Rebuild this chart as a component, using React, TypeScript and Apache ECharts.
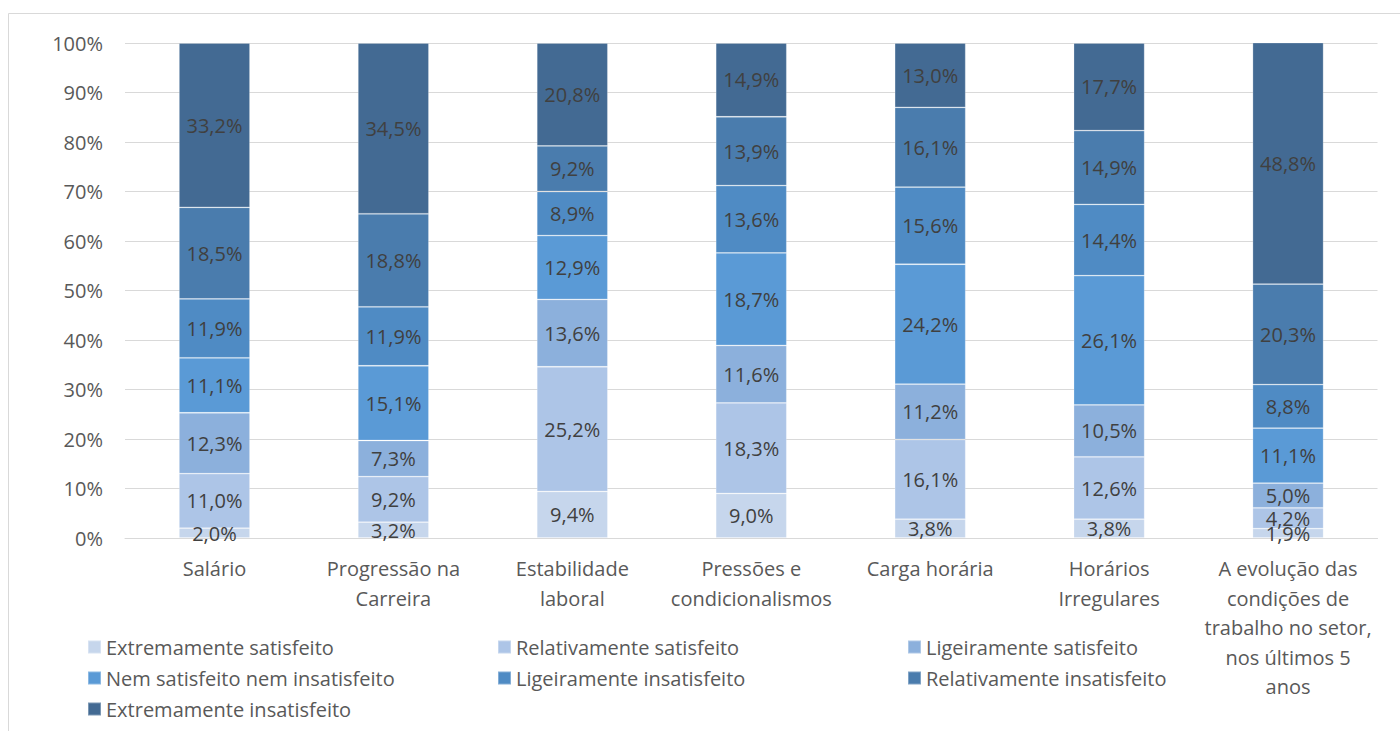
import React, { useEffect, useRef } from "react";
import * as echarts from "echarts";

const categories = [
  "Salário",
  "Progressão na\nCarreira",
  "Estabilidade\nlaboral",
  "Pressões e\ncondicionalismos",
  "Carga horária",
  "Horários\nIrregulares",
  "A evolução das\ncondições de\ntrabalho no setor,\nnos últimos 5\nanos",
];

const seriesNames = [
  "Extremamente satisfeito",
  "Relativamente satisfeito",
  "Ligeiramente satisfeito",
  "Nem satisfeito nem insatisfeito",
  "Ligeiramente insatisfeito",
  "Relativamente insatisfeito",
  "Extremamente insatisfeito",
];

const extremamenteSatisfeito = [2.0, 3.2, 9.4, 9.0, 3.8, 3.8, 1.9];
const relativamenteSatisfeito = [11.0, 9.2, 25.2, 18.3, 16.1, 12.6, 4.2];
const ligeiramenteSatisfeito = [12.3, 7.3, 13.6, 11.6, 11.2, 10.5, 5.0];
const nemSatisfeitoNemInsatisfeito = [11.1, 15.1, 12.9, 18.7, 24.2, 26.1, 11.1];
const ligeiramenteInsatisfeito = [11.9, 11.9, 8.9, 13.6, 15.6, 14.4, 8.8];
const relativamenteInsatisfeito = [18.5, 18.8, 9.2, 13.9, 16.1, 14.9, 20.3];
const extremamenteInsatisfeito = [33.2, 34.5, 20.8, 14.9, 13.0, 17.7, 48.8];

const seriesValues = [
  extremamenteSatisfeito,
  relativamenteSatisfeito,
  ligeiramenteSatisfeito,
  nemSatisfeitoNemInsatisfeito,
  ligeiramenteInsatisfeito,
  relativamenteInsatisfeito,
  extremamenteInsatisfeito,
];

const colors = [
  "#c6d6ec",
  "#adc5e7",
  "#8cb0dc",
  "#5a9ad6",
  "#4f8bc4",
  "#4a7cad",
  "#436a93",
];

const FONT = "'Open Sans', sans-serif";

export default function App() {
  const ref = useRef<HTMLDivElement>(null);

  useEffect(() => {
    if (!ref.current) return;
    const chart = echarts.init(ref.current, null, { renderer: "svg" });

    const legendBase = {
      orient: "vertical" as const,
      top: 631,
      height: 120,
      width: 400,
      itemWidth: 13,
      itemHeight: 13,
      itemGap: 9,
      icon: "rect",
      textStyle: { fontFamily: FONT, fontSize: 20, color: "#595959", lineHeight: 22 },
    };

    chart.setOption({
      animation: false,
      color: colors,
      textStyle: { fontFamily: FONT },
      graphic: [
        {
          type: "rect",
          shape: { x: 8.5, y: 13.5, width: 1400, height: 730 },
          style: { fill: "none", stroke: "#d9d9d9", lineWidth: 1 },
          silent: true,
        },
      ],
      grid: { left: 125, right: 22.5, top: 43, bottom: 193 },
      legend: [
        { ...legendBase, left: 82, data: [seriesNames[0], seriesNames[3], seriesNames[6]] },
        { ...legendBase, left: 492, data: [seriesNames[1], seriesNames[4]] },
        { ...legendBase, left: 902, data: [seriesNames[2], seriesNames[5]] },
      ],
      xAxis: {
        type: "category",
        data: categories,
        axisTick: { show: false },
        axisLine: { lineStyle: { color: "#d9d9d9" } },
        axisLabel: {
          interval: 0,
          margin: 16,
          fontFamily: FONT,
          fontSize: 20,
          lineHeight: 29.5,
          color: "#595959",
          align: "center",
        },
      },
      yAxis: {
        type: "value",
        min: 0,
        max: 100,
        interval: 10,
        axisLine: { show: false },
        axisTick: { show: false },
        splitLine: { lineStyle: { color: "#d9d9d9" } },
        axisLabel: {
          formatter: "{value}%",
          margin: 22,
          fontFamily: FONT,
          fontSize: 20,
          color: "#595959",
        },
      },
      series: seriesNames.map((name, i) => ({
        name,
        type: "bar",
        stack: "total",
        barWidth: "39.7%",
        data: seriesValues[i],
        itemStyle: { color: colors[i], borderColor: "rgba(255,255,255,0.3)", borderWidth: 0.8 },
        label: {
          show: true,
          position: "inside",
          fontFamily: FONT,
          fontSize: 20,
          color: "#404040",
          formatter: (p: any) => Number(p.value).toFixed(1).replace(".", ",") + "%",
        },
      })),
    });

    return () => chart.dispose();
  }, []);

  return (
    <div
      ref={ref}
      style={{ position: "absolute", left: 0, top: 0, width: 1400, height: 731, background: "#fff" }}
    />
  );
}
